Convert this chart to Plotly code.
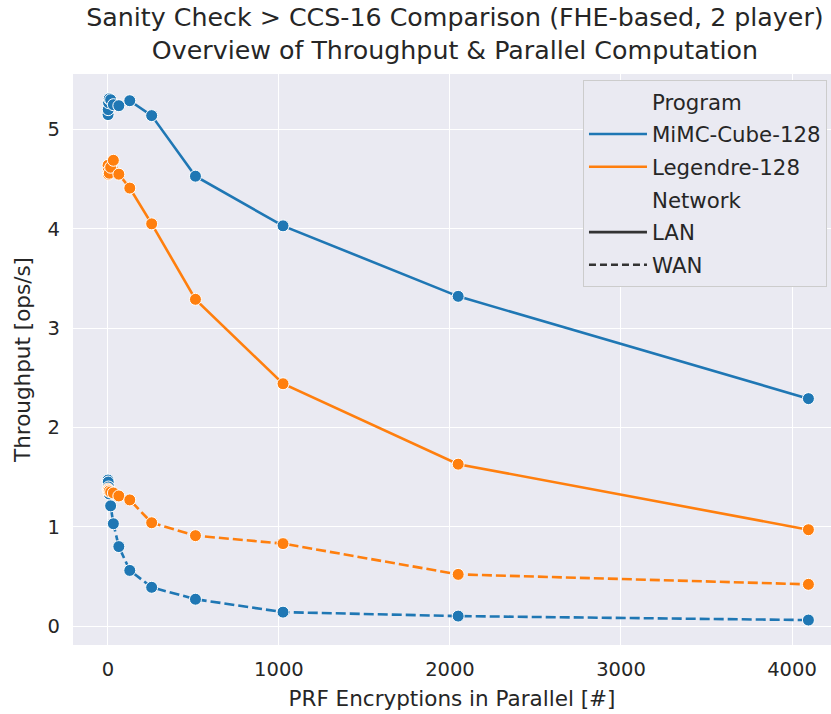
import plotly.graph_objects as go

parallel = [1, 2, 4, 8, 16, 32, 64, 128, 256, 512, 1024, 2048, 4096]
mimc_lan = [5.15, 5.20, 5.27, 5.31, 5.30, 5.25, 5.24, 5.29, 5.14, 4.53, 4.03, 3.32, 2.29]
legendre_lan = [4.64, 4.58, 4.55, 4.56, 4.62, 4.69, 4.55, 4.41, 4.05, 3.29, 2.44, 1.63, 0.97]
mimc_wan = [1.47, 1.45, 1.40, 1.33, 1.21, 1.03, 0.80, 0.56, 0.39, 0.27, 0.14, 0.10, 0.06]
legendre_wan = [1.38, 1.37, 1.36, 1.36, 1.35, 1.34, 1.31, 1.27, 1.04, 0.91, 0.83, 0.52, 0.42]

BLUE = "#1f77b4"
ORANGE = "#ff7f0e"
DARK = "#262626"
FONT = "DejaVu Sans"

fig = go.Figure()

series = [
    (mimc_lan, BLUE, "solid"),
    (legendre_lan, ORANGE, "solid"),
    (mimc_wan, BLUE, "10px,4px"),
    (legendre_wan, ORANGE, "10px,4px"),
]
for ys, col, dash in series:
    fig.add_trace(go.Scatter(
        x=parallel, y=ys, mode="lines+markers",
        line=dict(color=col, width=2.6, dash=dash),
        marker=dict(size=12, color=col, line=dict(color="white", width=1)),
        showlegend=False, hoverinfo="skip",
    ))

legend_items = [
    ("Program", "rgba(0,0,0,0)", "solid"),
    ("MiMC-Cube-128", BLUE, "solid"),
    ("Legendre-128", ORANGE, "solid"),
    ("Network", "rgba(0,0,0,0)", "solid"),
    ("LAN", "#333333", "solid"),
    ("WAN", "#333333", "7px,4px"),
]
for i, (name, col, dash) in enumerate(legend_items):
    fig.add_trace(go.Scatter(
        x=[None], y=[None], mode="lines", name=name,
        line=dict(color=col, width=2.6, dash=dash),
        legendgroup="g%d" % i, showlegend=True,
    ))

fig.update_layout(
    width=831, height=714,
    margin=dict(l=73, r=0, t=74, b=69),
    paper_bgcolor="white",
    plot_bgcolor="#EAEAF2",
    font=dict(family=FONT, color=DARK, size=19),
    title=dict(
        text="Sanity Check > CCS-16 Comparison (FHE-based, 2 player)<br>Overview of Throughput & Parallel Computation",
        x=0.5475, xref="container", xanchor="center",
        y=0.964, yref="container", yanchor="middle",
        font=dict(family=FONT, size=25.3, color=DARK),
    ),
    xaxis=dict(
        range=[-204, 4228], tickvals=[0, 1000, 2000, 3000, 4000],
        showgrid=True, gridcolor="white", gridwidth=1.3, zeroline=False,
        showline=False, ticks="", tickfont=dict(size=19.5, color=DARK),
        ticklabelstandoff=10,
        title=dict(text="PRF Encryptions in Parallel [#]", font=dict(size=21.5, color=DARK), standoff=11),
    ),
    yaxis=dict(
        range=[-0.191, 5.559], tickvals=[0, 1, 2, 3, 4, 5],
        showgrid=True, gridcolor="white", gridwidth=1.3, zeroline=False,
        showline=False, ticks="", tickfont=dict(size=19.5, color=DARK),
        ticklabelstandoff=12,
        title=dict(text="Throughput [ops/s]", font=dict(size=21.5, color=DARK), standoff=11),
    ),
    legend=dict(
        x=0.6728, xref="paper", y=0.9895, yanchor="top", xanchor="left",
        bgcolor="#EAEAF2", bordercolor="#CCCCCC", borderwidth=1,
        font=dict(size=21.3, color=DARK),
        itemwidth=58,
        traceorder="grouped", tracegroupgap=2,
    ),
)

fig.write_html("out.html")
